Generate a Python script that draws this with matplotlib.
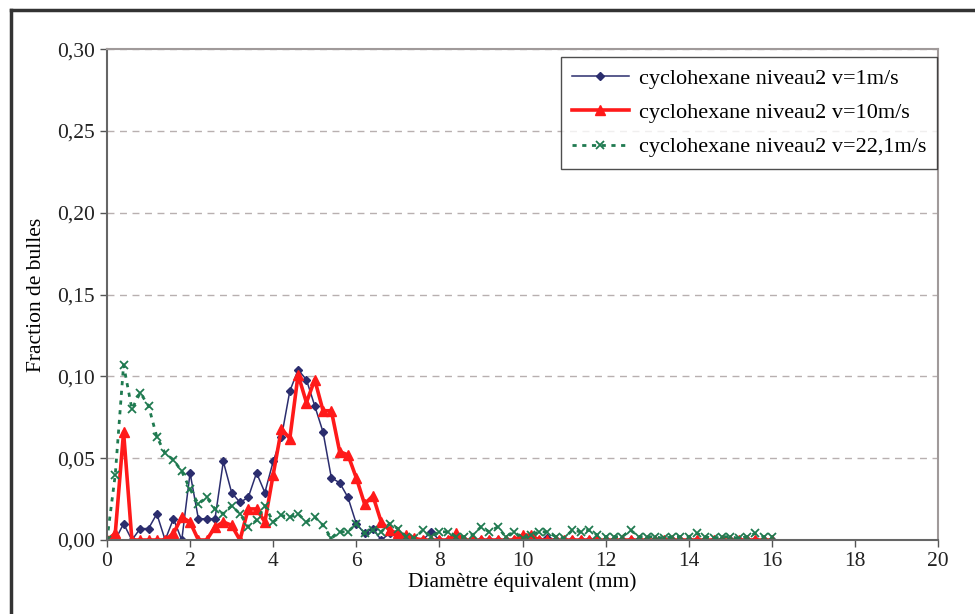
import matplotlib
matplotlib.use("Agg")
import matplotlib.pyplot as plt
from matplotlib.lines import Line2D
from matplotlib.ticker import FuncFormatter
import numpy as np

plt.rcParams['font.family'] = ['Liberation Serif', 'DejaVu Serif']

# diametre equivalent (mm), pas de 0,2 mm
diametre = np.round(np.arange(0, 16.01, 0.2), 1)

frac_v1 = [
    0.000, 0.000, 0.010, 0.000, 0.007, 0.007, 0.016, 0.000, 0.013, 0.000,
    0.041, 0.013, 0.013, 0.013, 0.048, 0.029, 0.023, 0.026, 0.041, 0.029,
    0.048, 0.063, 0.091, 0.104, 0.098, 0.082, 0.066, 0.038, 0.035, 0.026,
    0.010, 0.004, 0.007, 0.000, 0.004, 0.003, 0.000, 0.000, 0.000, 0.005,
    0.000, 0.000, 0.000, 0.000, 0.000, 0.000, 0.000, 0.000, 0.000, 0.000,
    0.000, 0.000, 0.000, 0.001, 0.000, 0.000, 0.000, 0.000, 0.000, 0.000,
    0.000, 0.000, 0.000, 0.000, 0.000, 0.000, 0.000, 0.000, 0.000, 0.000,
    0.000, 0.000, 0.000, 0.000, 0.000, 0.000, 0.000, 0.000, 0.000, 0.000,
    0.000,
]

frac_v10 = [
    0.000, 0.004, 0.066, 0.000, 0.000, 0.000, 0.000, 0.000, 0.004, 0.014,
    0.011, 0.000, 0.000, 0.008, 0.011, 0.009, 0.000, 0.019, 0.019, 0.011,
    0.040, 0.068, 0.062, 0.101, 0.084, 0.098, 0.079, 0.079, 0.054, 0.052,
    0.038, 0.022, 0.027, 0.011, 0.006, 0.004, 0.003, 0.001, 0.000, 0.000,
    0.000, 0.000, 0.004, 0.000, 0.000, 0.000, 0.000, 0.000, 0.000, 0.000,
    0.003, 0.003, 0.000, 0.000, 0.000, 0.000, 0.000, 0.000, 0.000, 0.000,
    0.000, 0.000, 0.000, 0.000, 0.000, 0.000, 0.000, 0.000, 0.000, 0.000,
    0.000, 0.000, 0.000, 0.000, 0.000, 0.000, 0.000, 0.000, 0.000, 0.000,
    0.000,
]

frac_v22 = [
    0.000, 0.040, 0.107, 0.080, 0.090, 0.082, 0.063, 0.053, 0.049, 0.042,
    0.031, 0.022, 0.026, 0.019, 0.016, 0.021, 0.016, 0.008, 0.012, 0.021,
    0.011, 0.015, 0.014, 0.016, 0.011, 0.014, 0.009, 0.001, 0.005, 0.005,
    0.010, 0.004, 0.006, 0.005, 0.010, 0.007, 0.002, 0.001, 0.006, 0.002,
    0.005, 0.005, 0.002, 0.002, 0.003, 0.008, 0.005, 0.008, 0.002, 0.005,
    0.001, 0.003, 0.005, 0.005, 0.002, 0.001, 0.006, 0.005, 0.006, 0.003,
    0.002, 0.002, 0.002, 0.006, 0.002, 0.002, 0.002, 0.001, 0.002, 0.002,
    0.002, 0.004, 0.002, 0.001, 0.002, 0.002, 0.001, 0.002, 0.004, 0.002,
    0.002,
]

labels = [
    'cyclohexane niveau2 v=1m/s',
    'cyclohexane niveau2 v=10m/s',
    'cyclohexane niveau2 v=22,1m/s',
]

fs = 15.5

fig = plt.figure(figsize=(9.75, 6.14), dpi=100)
ax = fig.add_axes([0.1097, 0.1205, 0.8524, 0.7995])

# cadre exterieur (gauche et haut)
fig.add_artist(Line2D([11 / 975, 11 / 975], [0, 1 - 10 / 614], color='#333333', lw=2.5))
fig.add_artist(Line2D([11 / 975, 1], [1 - 10 / 614, 1 - 10 / 614], color='#333333', lw=2.5))

ax.plot(diametre, frac_v1, color='#2b2d6e', lw=1.1, marker='D', ms=4.5, label=labels[0])
ax.plot(diametre, frac_v10, color='#ff1a1a', lw=2.6, marker='^', ms=6.5, label=labels[1])
ax.plot(diametre, frac_v22, color='#1f7a50', lw=2.0, ls=(0, (1.5, 2.0)), marker='x',
        ms=5.5, mew=1.3, label=labels[2])

ax.set_xlim(0, 20)
ax.set_ylim(0, 0.30)
ax.set_xticks(np.arange(0, 21, 2))
ax.set_yticks(np.arange(0, 0.301, 0.05))
ax.yaxis.set_major_formatter(FuncFormatter(lambda v, p: f'{v:.2f}'.replace('.', ',')))
ax.tick_params(labelsize=fs, direction='out', length=5, width=1, colors='#555555',
               labelcolor='#222222')

ax.grid(axis='y', color='#b8b0b0', ls=(0, (5, 4)), lw=1)
ax.set_axisbelow(True)

for side in ['left', 'bottom']:
    ax.spines[side].set_color('#666666')
    ax.spines[side].set_linewidth(1.5)
for side in ['top', 'right']:
    ax.spines[side].set_color('#a09a9a')
    ax.spines[side].set_linewidth(1.5)

ax.set_xlabel('Diamètre équivalent (mm)', fontsize=fs, labelpad=1)
ax.set_ylabel('Fraction de bulles', fontsize=fs, labelpad=8)

leg = ax.legend(loc='upper right', fontsize=16, frameon=True, fancybox=False,
                edgecolor='#222222', borderpad=0.5, labelspacing=0.62, handlelength=2.55,
                handletextpad=0.45, borderaxespad=0, bbox_to_anchor=(0.9988, 0.9837))
leg.get_frame().set_linewidth(1.0)

plt.savefig('out.png', dpi=100)
